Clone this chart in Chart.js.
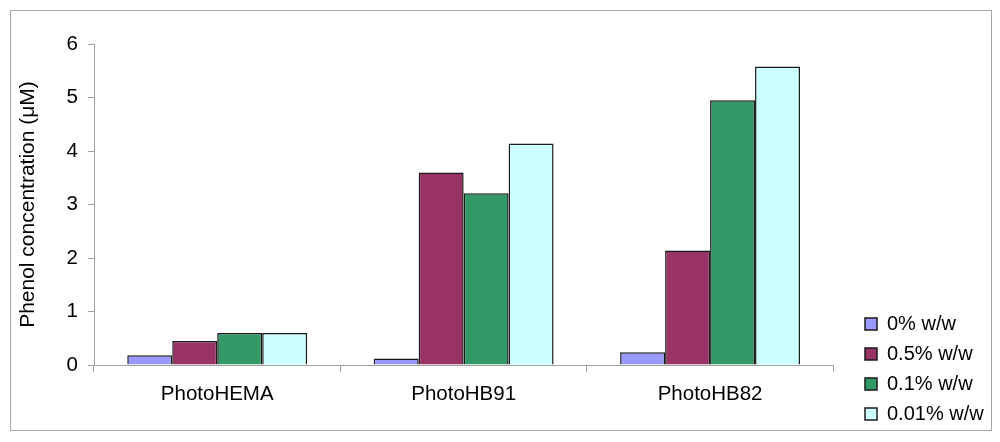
<!DOCTYPE html>
<html>
<head>
<meta charset="utf-8">
<script src="https://cdn.jsdelivr.net/npm/chart.js@4"></script>
<style>
  html, body { margin: 0; padding: 0; background: #ffffff; }
  #wrap { width: 1000px; height: 442px; }
</style>
</head>
<body>
<div id="wrap"><canvas id="chart" width="1000" height="442"></canvas></div>
<script>
// Phenol concentration per material and photoinitiator loading
const categories = ['PhotoHEMA', 'PhotoHB91', 'PhotoHB82'];
const seriesLabels = ['0% w/w', '0.5% w/w', '0.1% w/w', '0.01% w/w'];
const values0 = [0.18, 0.12, 0.24];
const values05 = [0.45, 3.60, 2.14];
const values01 = [0.60, 3.21, 4.95];
const values001 = [0.60, 4.14, 5.58];
const yTicks = [0, 1, 2, 3, 4, 5, 6];

const colors = ['#9999ff', '#993366', '#339966', '#ccffff'];
const allValues = [values0, values05, values01, values001];
const FONT = 'Liberation Sans';

// grey frame round the whole picture
const framePlugin = {
  id: 'frame',
  beforeDraw(chart) {
    const ctx = chart.ctx;
    ctx.save();
    ctx.fillStyle = '#ffffff';
    ctx.fillRect(0, 0, chart.width, chart.height);
    ctx.strokeStyle = '#a6a6a6';
    ctx.lineWidth = 1;
    ctx.strokeRect(10.5, 10.5, 981, 420);
    ctx.restore();
  },
  // legend sits further right than chart.js would put it
  afterLayout(chart) {
    const lg = chart.legend;
    if (!lg) return;
    const w = lg.width;
    lg.left = 855;
    lg.right = lg.left + w;
  }
};

const ctx = document.getElementById('chart');
new Chart(ctx.getContext('2d'), {
  type: 'bar',
  data: {
    labels: categories,
    datasets: seriesLabels.map((label, i) => ({
      label: label,
      data: allValues[i],
      backgroundColor: colors[i],
      borderColor: '#1a1a1a',
      borderWidth: 1.5,
      categoryPercentage: 0.73,
      barPercentage: 1.0
    }))
  },
  options: {
    responsive: false,
    animation: false,
    devicePixelRatio: 1,
    layout: {
      padding: { left: 16, right: 28, top: 44, bottom: 8 }
    },
    plugins: {
      legend: {
        position: 'right',
        align: 'end',
        labels: {
          color: '#000000',
          font: { family: FONT, size: 20 },
          boxWidth: 12,
          boxHeight: 12,
          padding: 10
        }
      },
      tooltip: { enabled: false }
    },
    scales: {
      x: {
        grid: {
          offset: true,
          drawOnChartArea: false,
          color: '#a0a0a0',
          tickLength: 7
        },
        border: { color: '#a0a0a0', width: 1 },
        ticks: {
          color: '#000000',
          font: { family: FONT, size: 20.5 },
          padding: 10
        },
        afterFit(scale) { scale.height = 442 - 365 - 8; }
      },
      y: {
        min: 0,
        max: 6,
        afterBuildTicks(scale) { scale.ticks = yTicks.map(v => ({ value: v })); },
        grid: {
          drawOnChartArea: false,
          color: '#a0a0a0',
          tickLength: 6
        },
        border: { color: '#a0a0a0', width: 1 },
        ticks: {
          color: '#000000',
          font: { family: FONT, size: 20.5 },
          padding: 10
        },
        title: {
          display: true,
          text: 'Phenol concentration (μM)',
          color: '#000000',
          font: { family: FONT, size: 21 },
          padding: { top: 0, bottom: 10 }
        },
        afterFit(scale) { scale.width = 94 - 16; }
      }
    }
  },
  plugins: [framePlugin]
});
</script>
</body>
</html>
